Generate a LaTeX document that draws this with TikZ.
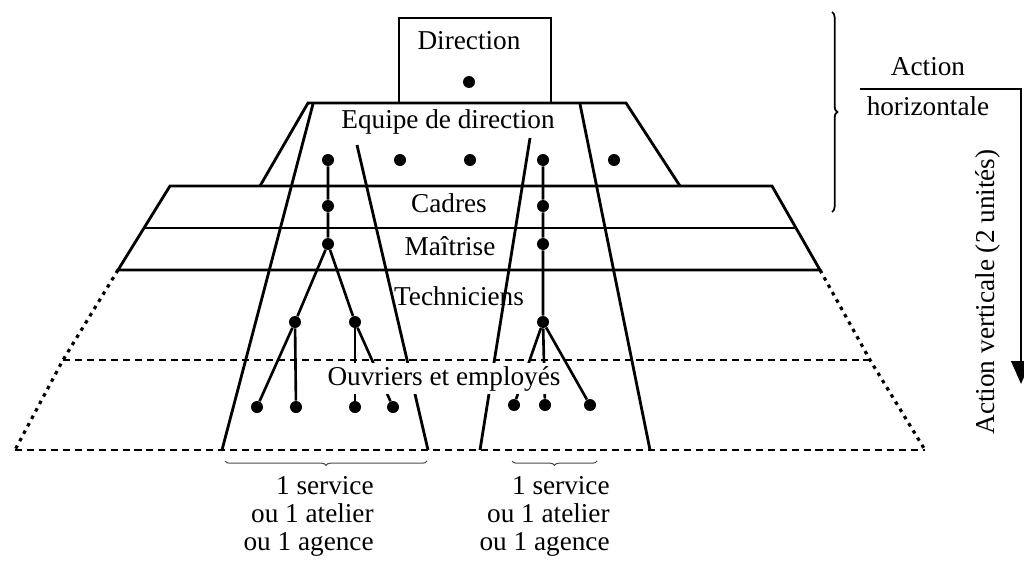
\documentclass[tikz,border=0pt]{standalone}
\usepackage{fontspec}
\setmainfont{Liberation Serif}
\usetikzlibrary{positioning,arrows.meta,decorations.pathreplacing}

\begin{document}
\begin{tikzpicture}[x=0.02cm, y=-0.02cm,
  blob/.style={circle, fill=black, inner sep=0pt, minimum size=0.24cm},
  lbl/.style={font=\fontsize{15.5}{16}\selectfont, inner sep=0pt},
  link/.style={line width=1.5pt},
  band/.style={line width=1.6pt},
  dashband/.style={line width=1.6pt, dash pattern=on 4pt off 2.8pt},
  dotband/.style={line width=1.8pt, dash pattern=on 2pt off 2.8pt},
  brc/.style={decorate, decoration={brace, amplitude=2.5pt}, line width=0.6pt, black!70}
]
  \useasboundingbox (0,0) rectangle (1024,561);

  % pyramid outline
  \draw[band] (399,103) rectangle (551,18);
  \draw[band] (260,186) -- (308,103) -- (626,103) -- (680,186);
  \draw[band] (118,270) -- (170,186) -- (772,186) -- (820,270) -- cycle;
  \draw[band] (145,228) -- (796,228);
  \draw[dotband] (118,270) -- (63,360) -- (15,450);
  \draw[dotband] (820,270) -- (870,360) -- (925,450);
  \draw[dashband] (63,360) -- (870,360);
  \draw[dashband] (15,450) -- (925,450);

  % the two services
  \draw[band] (313,104) -- (222,450);
  \draw[band] (357,145) -- (428,450);
  \draw[band] (530,138) -- (480,450);
  \draw[band] (580,104) -- (650,450);

  % level labels
  \node[lbl, anchor=base] (dir) at (469,50)  {Direction};
  \node[lbl, anchor=base] (eq)  at (448,128) {Equipe de direction};
  \node[lbl, anchor=base] (cad) at (449,212) {Cadres};
  \node[lbl, anchor=base] (mai) at (450,255) {Maîtrise};
  \node[lbl, anchor=base] (tec) at (459,305) {Techniciens};

  % people
  \node[blob] (d0) at (469,82) {};
  \node[blob] (e1) at (328,160) {};
  \node[blob] (e2) at (400,160) {};
  \node[blob] (e3) at (470,160) {};
  \node[blob] (e4) at (543,160) {};
  \node[blob] (e5) at (614,160) {};
  \node[blob] (c1) at (328,206) {};
  \node[blob] (c2) at (543,206) {};
  \node[blob] (m1) at (328,244) {};
  \node[blob] (m2) at (543,244) {};
  \node[blob] (t1) at (295,322) {};
  \node[blob] (t2) at (355,322) {};
  \node[blob] (t3) at (543,322) {};
  \node[blob] (o1) at (257,407) {};
  \node[blob] (o2) at (296,407) {};
  \node[blob] (o3) at (355,407) {};
  \node[blob] (o4) at (393,407) {};
  \node[blob] (o5) at (514,405) {};
  \node[blob] (o6) at (545,405) {};
  \node[blob] (o7) at (590,405) {};

  % vertical lines of command
  \draw[link] (e1) -- (c1) -- (m1) -- (t1) -- (o1);
  \draw[link] (m1) -- (t2) -- (o4);
  \draw[link] (t1) -- (o2);
  \draw[link] (t2) -- (o3);
  \draw[link] (e4) -- (c2) -- (m2) -- (t3) -- (o6);
  \draw[link] (t3) -- (o5);
  \draw[link] (t3) -- (o7);

  \node[lbl, anchor=base, fill=white, inner ysep=1.5pt] (ouv) at (444,385) {Ouvriers et employés};

  % action horizontale / verticale
  \draw[brc, black, line width=1pt, decoration={amplitude=3pt}] (832,12) -- (832,212);
  \node[lbl, anchor=base] (ah1) at (928,75)  {Action};
  \node[lbl, anchor=base] (ah2) at (928,115) {horizontale};
  \coordinate (hs) at (860,89);
  \coordinate (hc) at (1021,89);
  \coordinate (he) at (1021,384);
  \draw[band, -{Triangle[length=13pt, width=11pt]}] (hs) -- (hc) -- (he);
  \node[lbl, rotate=90] (av) at (988,292) {Action verticale (2 unités)};

  % services below
  \draw[brc] (427,461) -- (225,461);
  \draw[brc] (597,461) -- (512,461);
  \node[lbl, align=right, anchor=north east] (sv1) at (374,476) {1 service\\ou 1 atelier\\ou 1 agence};
  \node[lbl, align=right, anchor=north east] (sv2) at (610,476) {1 service\\ou 1 atelier\\ou 1 agence};
\end{tikzpicture}
\end{document}
